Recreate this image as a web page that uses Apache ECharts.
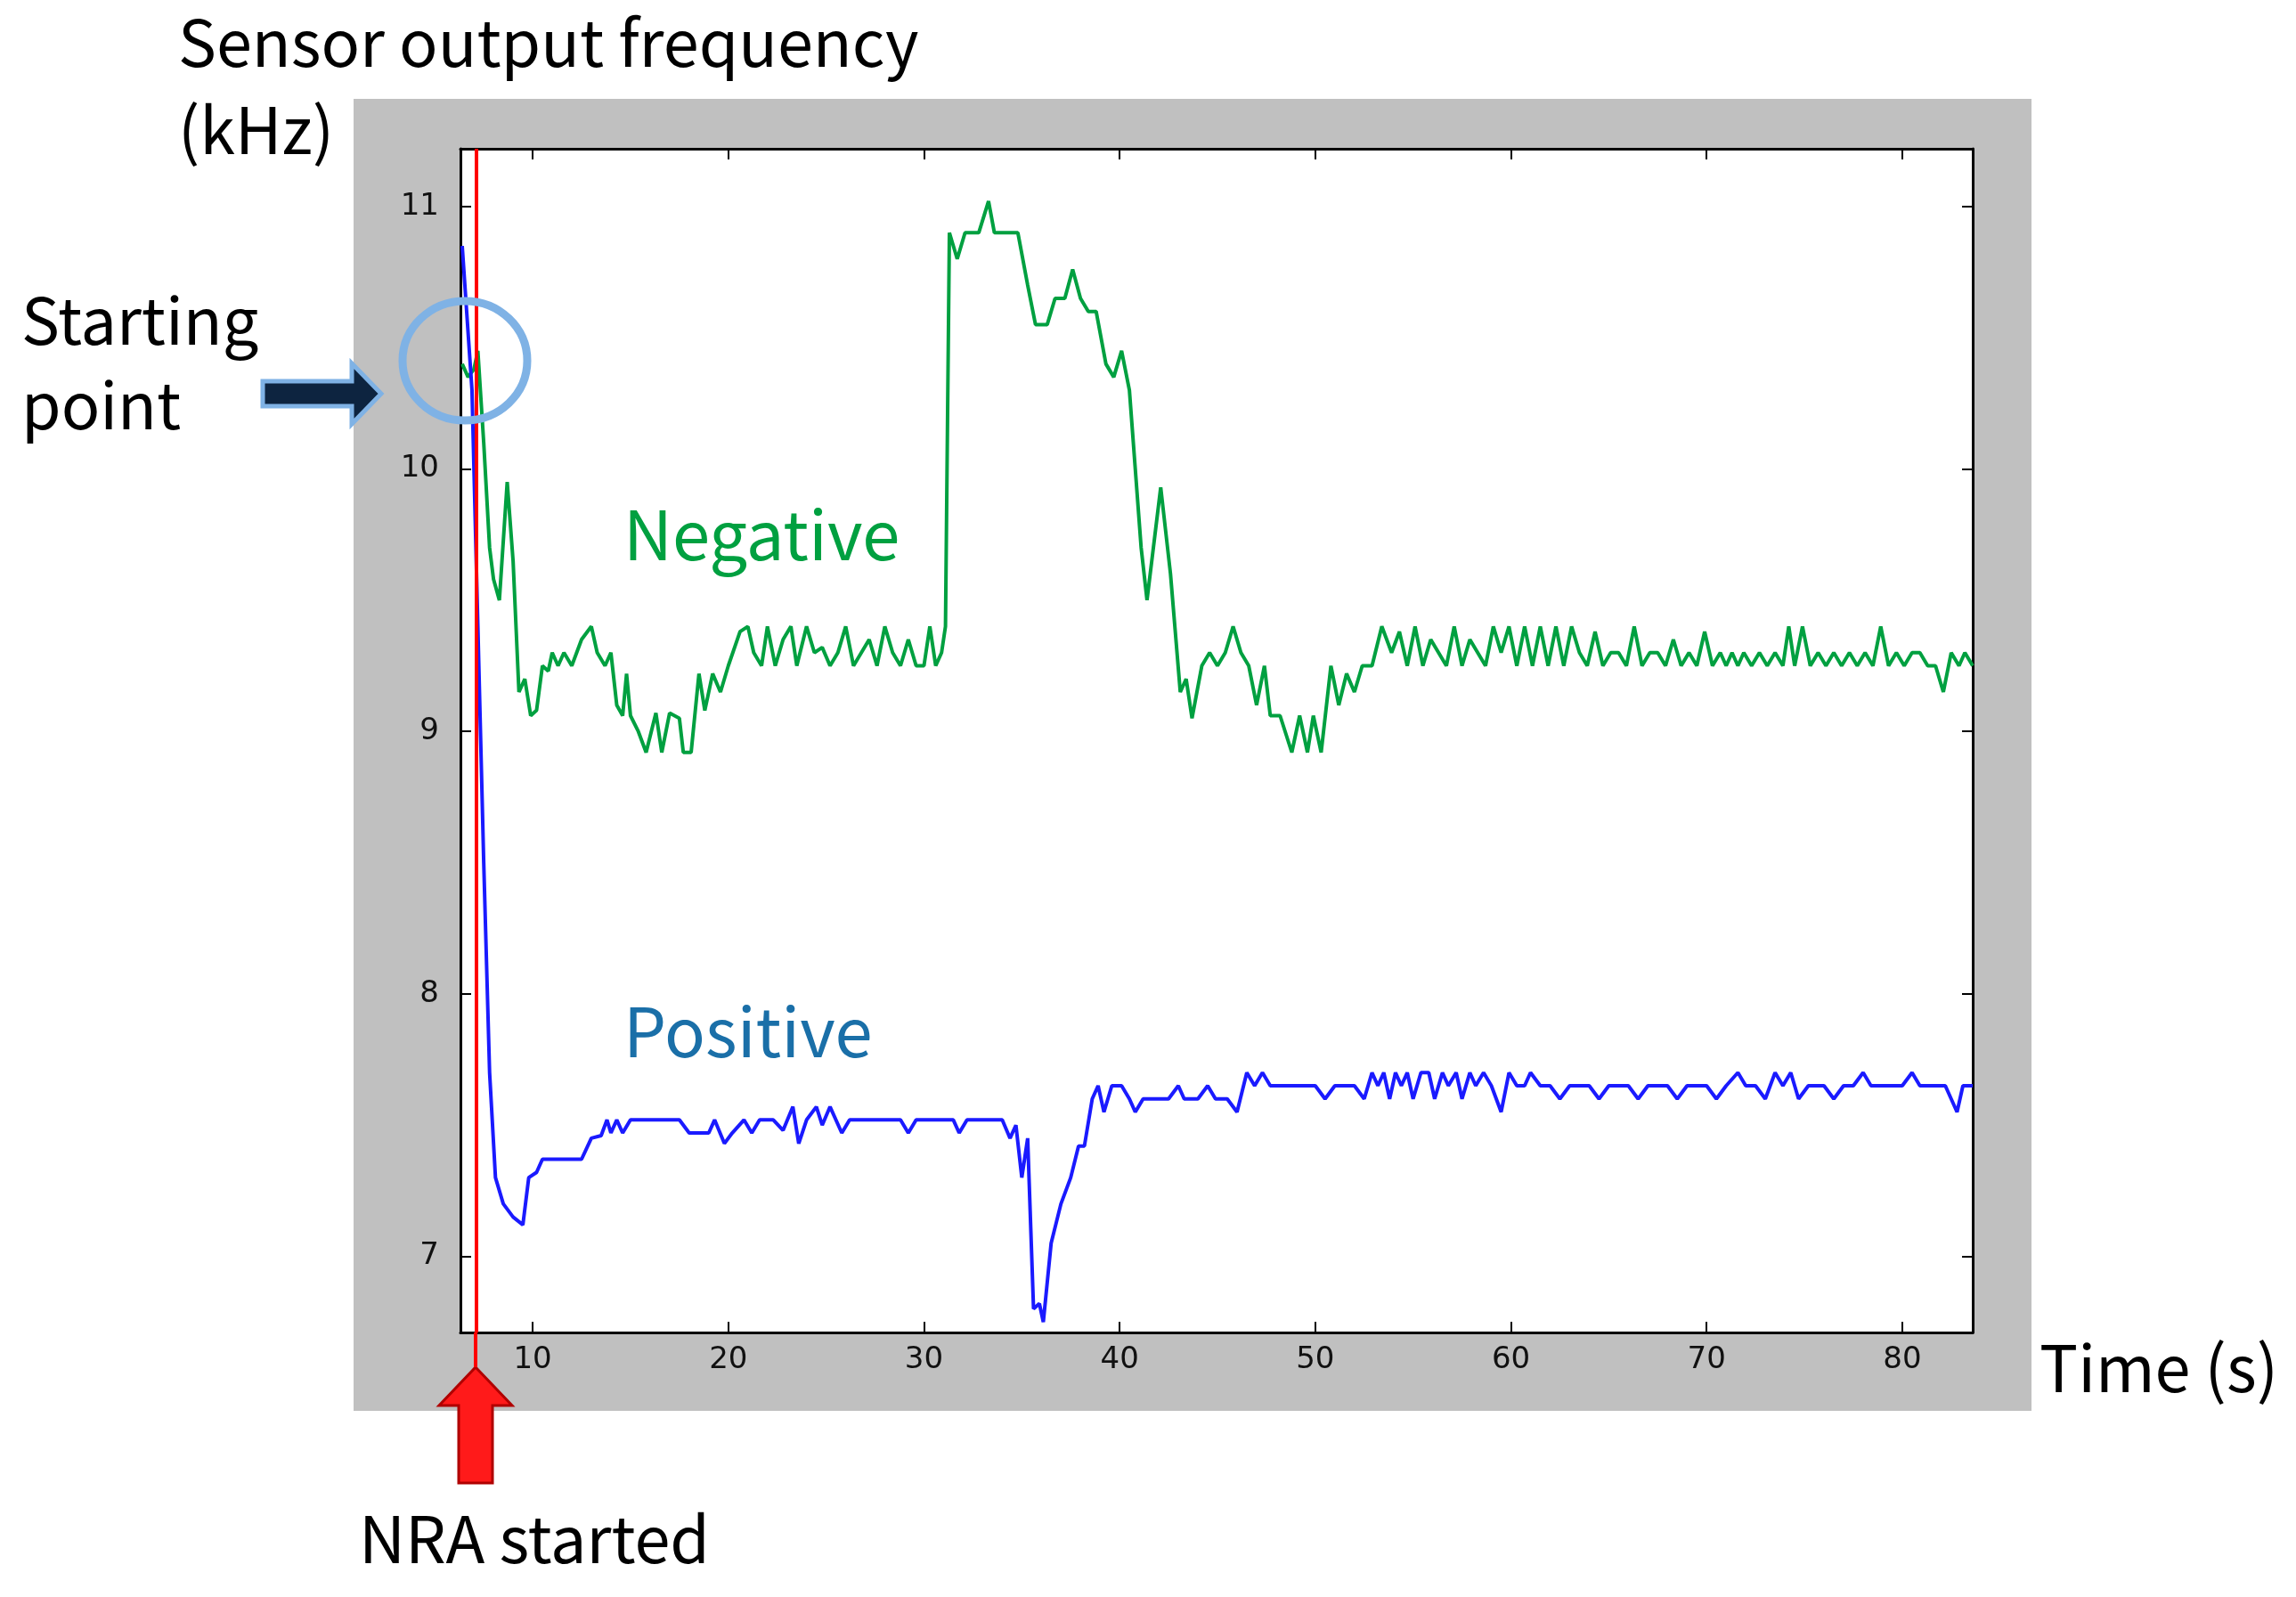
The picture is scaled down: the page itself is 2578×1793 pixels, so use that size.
<!DOCTYPE html>
<html>
<head>
<meta charset="utf-8">
<script src="https://cdn.jsdelivr.net/npm/echarts@6/dist/echarts.min.js"></script>
<style>
  html, body { margin: 0; padding: 0; background: #fff; }
  #chart { width: 2578px; height: 1793px; }
</style>
</head>
<body>
<div id="chart"></div>
<script>
// tick labels
var xTicks = [10, 20, 30, 40, 50, 60, 70, 80]
var yTicks = [7, 8, 9, 10, 11]

// Negative (green) series: [time s, kHz]
var negative = [
  [6.4, 10.4], [6.7, 10.35], [7.0, 10.38], [7.2, 10.45], [7.5, 10.1], [7.8, 9.7], [8.0, 9.58], [8.3, 9.5],
  [8.7, 9.95], [9.0, 9.65], [9.3, 9.15], [9.6, 9.2], [9.9, 9.06], [10.2, 9.08], [10.5, 9.25], [10.8, 9.23],
  [11.0, 9.3], [11.3, 9.25], [11.6, 9.3], [12.0, 9.25], [12.5, 9.35], [13.0, 9.4], [13.3, 9.3], [13.7, 9.25],
  [14.0, 9.3], [14.3, 9.1], [14.6, 9.06], [14.8, 9.22], [15.0, 9.06], [15.4, 9.0], [15.8, 8.92], [16.3, 9.07],
  [16.6, 8.92], [17.0, 9.07], [17.5, 9.05], [17.7, 8.92], [18.1, 8.92], [18.5, 9.22], [18.8, 9.08], [19.2, 9.22],
  [19.6, 9.15], [20.0, 9.25], [20.6, 9.38], [21.0, 9.4], [21.3, 9.3], [21.7, 9.25], [22.0, 9.4], [22.4, 9.25],
  [22.8, 9.35], [23.2, 9.4], [23.5, 9.25], [24.0, 9.4], [24.4, 9.3], [24.8, 9.32], [25.2, 9.25], [25.6, 9.3],
  [26.0, 9.4], [26.4, 9.25], [26.8, 9.3], [27.2, 9.35], [27.6, 9.25], [28.0, 9.4], [28.4, 9.3], [28.8, 9.25],
  [29.2, 9.35], [29.6, 9.25], [30.0, 9.25], [30.3, 9.4], [30.6, 9.25], [30.9, 9.3], [31.1, 9.4], [31.3, 10.9],
  [31.7, 10.8], [32.1, 10.9], [32.8, 10.9], [33.3, 11.02], [33.6, 10.9], [34.4, 10.9], [34.8, 10.9], [35.3, 10.7],
  [35.7, 10.55], [36.3, 10.55], [36.7, 10.65], [37.2, 10.65], [37.6, 10.76], [38.0, 10.65], [38.4, 10.6], [38.8, 10.6],
  [39.3, 10.4], [39.7, 10.35], [40.1, 10.45], [40.5, 10.3], [41.1, 9.7], [41.4, 9.5], [42.1, 9.93], [42.6, 9.6],
  [43.1, 9.15], [43.4, 9.2], [43.7, 9.05], [44.2, 9.25], [44.6, 9.3], [45.0, 9.25], [45.4, 9.3], [45.8, 9.4],
  [46.2, 9.3], [46.6, 9.25], [47.0, 9.1], [47.4, 9.25], [47.7, 9.06], [48.2, 9.06], [48.8, 8.92], [49.2, 9.06],
  [49.6, 8.92], [49.9, 9.06], [50.3, 8.92], [50.8, 9.25], [51.2, 9.1], [51.6, 9.22], [52.0, 9.15], [52.4, 9.25],
  [52.9, 9.25], [53.4, 9.4], [53.9, 9.3], [54.3, 9.38], [54.7, 9.25], [55.1, 9.4], [55.5, 9.25], [55.9, 9.35],
  [56.3, 9.3], [56.7, 9.25], [57.1, 9.4], [57.5, 9.25], [57.9, 9.35], [58.3, 9.3], [58.7, 9.25], [59.1, 9.4],
  [59.5, 9.3], [59.9, 9.4], [60.3, 9.25], [60.7, 9.4], [61.1, 9.25], [61.5, 9.4], [61.9, 9.25], [62.3, 9.4],
  [62.7, 9.25], [63.1, 9.4], [63.5, 9.3], [63.9, 9.25], [64.3, 9.38], [64.7, 9.25], [65.1, 9.3], [65.5, 9.3],
  [65.9, 9.25], [66.3, 9.4], [66.7, 9.25], [67.1, 9.3], [67.5, 9.3], [67.9, 9.25], [68.3, 9.35], [68.7, 9.25],
  [69.1, 9.3], [69.5, 9.25], [69.9, 9.38], [70.3, 9.25], [70.7, 9.3], [71.0, 9.25], [71.3, 9.3], [71.6, 9.25],
  [71.9, 9.3], [72.3, 9.25], [72.7, 9.3], [73.1, 9.25], [73.5, 9.3], [73.9, 9.25], [74.2, 9.4], [74.5, 9.25],
  [74.9, 9.4], [75.3, 9.25], [75.7, 9.3], [76.1, 9.25], [76.5, 9.3], [76.9, 9.25], [77.3, 9.3], [77.7, 9.25],
  [78.1, 9.3], [78.5, 9.25], [78.9, 9.4], [79.3, 9.25], [79.7, 9.3], [80.1, 9.25], [80.5, 9.3], [80.9, 9.3],
  [81.3, 9.25], [81.7, 9.25], [82.1, 9.15], [82.5, 9.3], [82.9, 9.25], [83.2, 9.3], [83.6, 9.25]
]

// Positive (blue) series: [time s, kHz]
var positive = [
  [6.4, 10.85], [6.9, 10.3], [7.2, 9.4], [7.5, 8.5], [7.8, 7.7], [8.1, 7.3], [8.5, 7.2], [9.0, 7.15],
  [9.5, 7.12], [9.8, 7.3], [10.2, 7.32], [10.5, 7.37], [11.5, 7.37], [12.5, 7.37], [13.0, 7.45], [13.5, 7.46],
  [13.8, 7.52], [14.0, 7.47], [14.3, 7.52], [14.6, 7.47], [15.0, 7.52], [16.0, 7.52], [17.5, 7.52], [18.0, 7.47],
  [19.0, 7.47], [19.3, 7.52], [19.8, 7.43], [20.2, 7.47], [20.8, 7.52], [21.2, 7.47], [21.6, 7.52], [22.3, 7.52],
  [22.8, 7.48], [23.3, 7.57], [23.6, 7.43], [24.0, 7.52], [24.5, 7.57], [24.8, 7.5], [25.2, 7.57], [25.8, 7.47],
  [26.2, 7.52], [27.0, 7.52], [28.0, 7.52], [28.8, 7.52], [29.2, 7.47], [29.6, 7.52], [30.5, 7.52], [31.5, 7.52],
  [31.8, 7.47], [32.2, 7.52], [33.0, 7.52], [34.0, 7.52], [34.4, 7.45], [34.7, 7.5], [35.0, 7.3], [35.3, 7.45],
  [35.6, 6.8], [35.9, 6.82], [36.1, 6.75], [36.5, 7.05], [37.0, 7.2], [37.5, 7.3], [37.9, 7.42], [38.2, 7.42],
  [38.6, 7.6], [38.9, 7.65], [39.2, 7.55], [39.6, 7.65], [40.1, 7.65], [40.5, 7.6], [40.8, 7.55], [41.2, 7.6],
  [42.0, 7.6], [42.5, 7.6], [43.0, 7.65], [43.3, 7.6], [44.0, 7.6], [44.5, 7.65], [44.9, 7.6], [45.5, 7.6],
  [46.0, 7.55], [46.5, 7.7], [46.9, 7.65], [47.3, 7.7], [47.7, 7.65], [48.5, 7.65], [49.5, 7.65], [50.0, 7.65],
  [50.5, 7.6], [51.0, 7.65], [52.0, 7.65], [52.5, 7.6], [52.9, 7.7], [53.2, 7.65], [53.5, 7.7], [53.8, 7.6],
  [54.1, 7.7], [54.4, 7.65], [54.7, 7.7], [55.0, 7.6], [55.4, 7.7], [55.8, 7.7], [56.1, 7.6], [56.5, 7.7],
  [56.8, 7.65], [57.2, 7.7], [57.5, 7.6], [57.9, 7.7], [58.2, 7.65], [58.6, 7.7], [59.0, 7.65], [59.5, 7.55],
  [59.9, 7.7], [60.3, 7.65], [60.7, 7.65], [61.0, 7.7], [61.5, 7.65], [62.0, 7.65], [62.5, 7.6], [63.0, 7.65],
  [64.0, 7.65], [64.5, 7.6], [65.0, 7.65], [66.0, 7.65], [66.5, 7.6], [67.0, 7.65], [68.0, 7.65], [68.5, 7.6],
  [69.0, 7.65], [70.0, 7.65], [70.5, 7.6], [71.0, 7.65], [71.6, 7.7], [72.0, 7.65], [72.5, 7.65], [73.0, 7.6],
  [73.5, 7.7], [73.9, 7.65], [74.3, 7.7], [74.7, 7.6], [75.2, 7.65], [76.0, 7.65], [76.5, 7.6], [77.0, 7.65],
  [77.5, 7.65], [78.0, 7.7], [78.4, 7.65], [79.0, 7.65], [80.0, 7.65], [80.5, 7.7], [80.9, 7.65], [81.5, 7.65],
  [82.2, 7.65], [82.5, 7.6], [82.8, 7.55], [83.1, 7.65], [83.6, 7.65]
]

var nraStart = 7.1

var chart = echarts.init(document.getElementById('chart'))
var tickFont = { fontFamily: 'DejaVu Sans', fontSize: 34, color: '#111' }
var annFont = '"Noto Sans CJK KR", "Noto Sans", sans-serif'

function xAxisCfg(pos, show) {
  return {
    type: 'value', position: pos, min: 6.31, max: 83.6,
    axisLine: { show: true, onZero: false, lineStyle: { color: '#000', width: 3 } },
    splitLine: { show: false },
    axisTick: { show: true, inside: true, length: 12, lineStyle: { color: '#000', width: 2 }, customValues: xTicks },
    axisLabel: Object.assign({ show: show, margin: 14, customValues: xTicks }, tickFont)
  }
}
function yAxisCfg(pos, show) {
  return {
    type: 'value', position: pos, min: 6.71, max: 11.22,
    axisLine: { show: true, onZero: false, lineStyle: { color: '#000', width: 3 } },
    splitLine: { show: false },
    axisTick: { show: true, inside: true, length: 12, lineStyle: { color: '#000', width: 2 }, customValues: yTicks },
    axisLabel: Object.assign({ show: show, margin: 24, customValues: yTicks }, tickFont)
  }
}

var option = {
  backgroundColor: '#fff',
  animation: false,
  grid: { left: 517, right: 363, top: 167, bottom: 297, show: true, backgroundColor: '#fff', borderWidth: 0 },
  xAxis: [xAxisCfg('bottom', true), xAxisCfg('top', false)],
  yAxis: [yAxisCfg('left', true), yAxisCfg('right', false)],
  graphic: [
    { type: 'rect', z: -10, shape: { x: 397, y: 111, width: 1884, height: 1473 }, style: { fill: '#c0c0c0' } },
    { type: 'text', left: 200, top: 12, style: { text: 'Sensor output frequency', font: '72px ' + annFont, fill: '#000', letterSpacing: 5 } },
    { type: 'text', left: 200, top: 110, style: { text: '(kHz)', font: '72px ' + annFont, fill: '#000', letterSpacing: 5 } },
    { type: 'text', left: 24, top: 312, style: { text: 'Starting\npoint', font: '72px ' + annFont, fill: '#000', lineHeight: 95, letterSpacing: 3 } },
    { type: 'text', left: 2290, top: 1500, style: { text: 'Time (s)', font: '72px ' + annFont, fill: '#000', letterSpacing: 4 } },
    { type: 'text', left: 403, top: 1692, style: { text: 'NRA started', font: '72px ' + annFont, fill: '#000', letterSpacing: 4 } },
    { type: 'text', left: 700, top: 562, z: 50, style: { text: 'Negative', font: '76px ' + annFont, fill: '#00a040', letterSpacing: 2 } },
    { type: 'text', left: 700, top: 1120, z: 50, style: { text: 'Positive', font: '76px ' + annFont, fill: '#1a6fa8', letterSpacing: 2 } },
    // blue circle around start point
    { type: 'ellipse', z: 60, shape: { cx: 522, cy: 405, rx: 70, ry: 67 }, style: { fill: 'none', stroke: '#7fb2e5', lineWidth: 9 } },
    // starting point arrow
    { type: 'polygon', z: 60, shape: { points: [[295, 428], [395, 428], [395, 408], [428, 442], [395, 476], [395, 456], [295, 456]] },
      style: { fill: '#0d2440', stroke: '#7fb2e5', lineWidth: 5 } },
    // NRA arrow below the axis
    { type: 'polygon', z: 60, shape: { points: [[534, 1535], [575, 1578], [553, 1578], [553, 1665], [515, 1665], [515, 1578], [493, 1578]] },
      style: { fill: '#ff1a1a', stroke: '#b00000', lineWidth: 3 } },
    { type: 'line', z: 60, shape: { x1: 534, y1: 1496, x2: 534, y2: 1535 }, style: { stroke: '#ff0000', lineWidth: 4 } }
  ],
  series: [
    {
      name: 'Negative', type: 'line', data: negative, showSymbol: false,
      lineStyle: { color: '#00a040', width: 4 }, z: 3
    },
    {
      name: 'Positive', type: 'line', data: positive, showSymbol: false,
      lineStyle: { color: '#1a1aff', width: 4 }, z: 3,
      markLine: {
        symbol: 'none', silent: true, label: { show: false },
        lineStyle: { color: '#ff0000', width: 4, type: 'solid' },
        data: [{ xAxis: nraStart }]
      }
    }
  ]
}
chart.setOption(option)
</script>
</body>
</html>
